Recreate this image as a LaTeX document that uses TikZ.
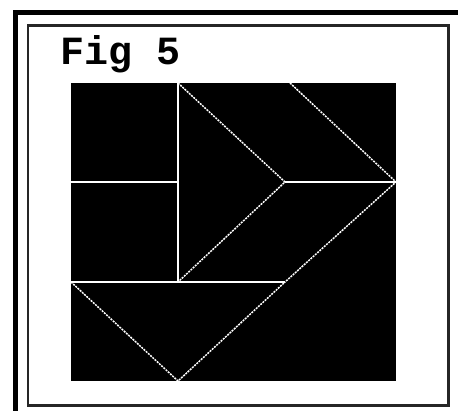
\documentclass[tikz,border=0pt]{standalone}
\usepackage{fontspec}
\newfontfamily\figfont{Liberation Mono}
\begin{document}
\begin{tikzpicture}[x=1pt,y=-1pt,
  frameout/.style={draw=black,line width=5pt},
  framein/.style={draw=black!85,line width=2.5pt},
  seam/.style={draw=white,line width=2pt},
  diag/.style={draw=white,line width=1.5pt,dash pattern=on 2pt off 1pt},
  title/.style={font=\figfont\bfseries\fontsize{40}{40}\selectfont,anchor=base west,inner sep=0pt}]
\useasboundingbox (0,0) rectangle (458,411);
\fill[white] (0,0) rectangle (458,411);
% outer thick frame (cut by the page at right and bottom)
\draw[frameout] (15,411) -- (15,13) -- (458,13);
% inner frame
\draw[framein] (28,25.5) rectangle (448.5,405.5);
% title
\node[title] (t) at (60,65) {Fig 5};
% black square
\fill[black] (71,83) rectangle (396,381);
% grid points
\coordinate (a1) at (71,182);
\coordinate (a2) at (178,182);
\coordinate (b0) at (178,83);
\coordinate (b1) at (178,282);
\coordinate (c0) at (290,83);
\coordinate (m) at (285,182);
\coordinate (tip) at (396,182);
\coordinate (l2) at (71,282);
\coordinate (r2) at (285,282);
\coordinate (bot) at (178,381);
% straight seams
\draw[seam] (a1) -- (a2);
\draw[seam] (b0) -- (b1);
\draw[seam] (l2) -- (r2);
\draw[seam] (m) -- (tip);
% diagonal seams
\draw[diag] (b0) -- (m) -- (b1);
\draw[diag] (c0) -- (tip) -- (r2);
\draw[diag] (l2) -- (bot) -- (r2);
\end{tikzpicture}
\end{document}
